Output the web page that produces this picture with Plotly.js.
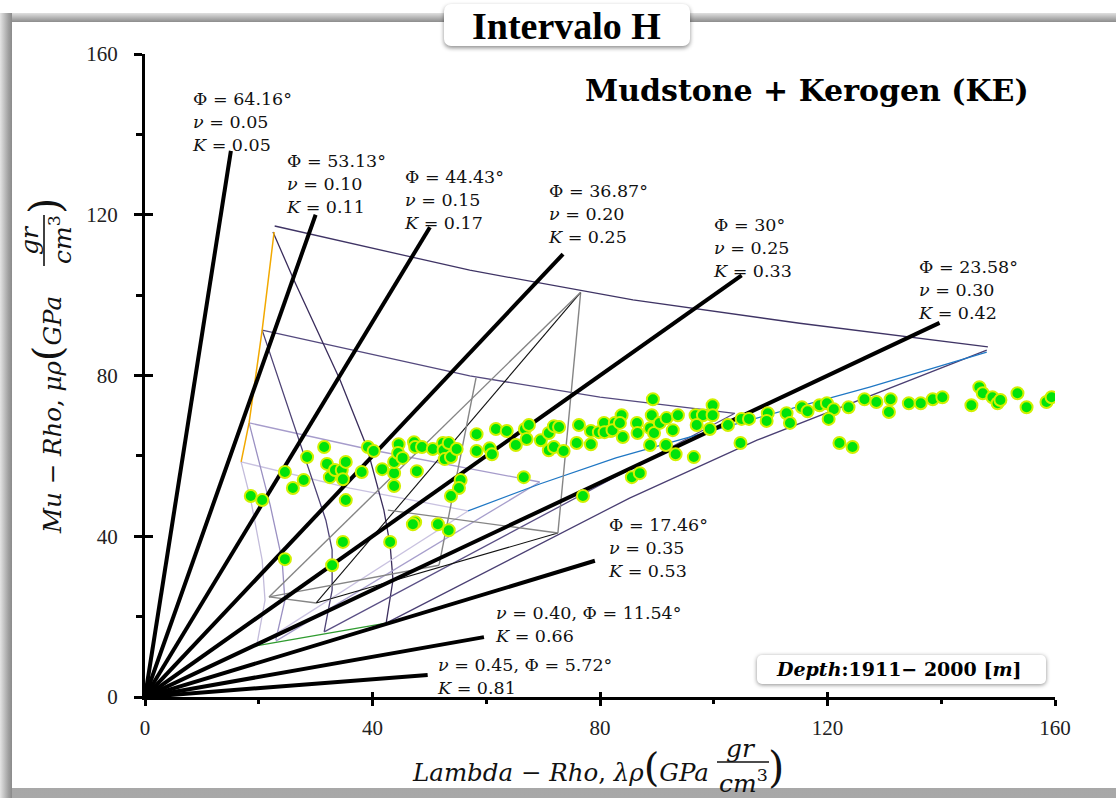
<!DOCTYPE html>
<html>
<head>
<meta charset="utf-8">
<script src="https://cdn.plot.ly/plotly-3.0.1.min.js"></script>
<style>
html,body{margin:0;padding:0;background:#fff;}
#wrap{position:relative;width:1116px;height:798px;overflow:hidden;background:#fff;}
#frame{position:absolute;left:0;top:13px;width:1116px;height:785px;
  background:linear-gradient(to bottom,#e0e0e0 0px,#8c8c8c 9px,#a8a8a8 100%);}
#frameL{position:absolute;left:0;top:13px;width:12px;height:785px;
  background:linear-gradient(to right,#e4e4e4,#a0a0a0 70%,#8a8a8a);}
#inner{position:absolute;left:12px;top:22px;right:0px;bottom:10px;background:#fff;}
#titlebox{position:absolute;left:444px;top:4px;width:246px;height:42px;background:#fff;
  border-radius:7px;box-shadow:0 2px 4px rgba(0,0,0,0.45);}
#depthbox{position:absolute;left:757px;top:655px;width:289px;height:29px;background:#fff;
  border-radius:5px;box-shadow:0 1px 4px rgba(0,0,0,0.45);}
#plot{position:absolute;left:0;top:0;width:1116px;height:798px;}
</style>
</head>
<body>
<div id="wrap">
  <div id="frame"></div>
  <div id="frameL"></div>
  <div id="inner"></div>
  <div id="titlebox"></div>
  <div id="depthbox"></div>
  <div id="plot"></div>
</div>
<script>
// ---------------- measured samples (Lambda-Rho, Mu-Rho) ----------------
const lambdaRho = [18.6,20.6,24.6,26.0,27.9,28.5,31.5,32.0,32.5,33.4,34.6,35.3,34.8,35.3,38.1,39.2,40.2,41.7,43.8,43.8,
  43.8,44.6,44.5,45.3,47.3,47.5,48.7,47.8,50.6,52.4,52.5,53.4,52.7,53.8,54.8,55.5,55.2,53.8,58.3,58.3,
  60.6,61.0,61.7,63.6,65.2,66.8,67.5,67.1,66.6,69.6,71.0,71.9,72.8,71.0,71.9,73.6,76.3,75.9,78.4,78.4,
  79.8,80.7,81.9,82.6,77.0,47.5,47.1,51.5,53.4,24.6,32.9,34.8,43.1,80.8,82.2,83.8,83.5,84.0,86.5,86.6,
  89.1,89.3,88.8,89.5,90.5,91.7,93.7,92.8,88.8,91.6,93.3,96.5,96.8,98.1,97.0,99.8,99.8,99.3,102.5,104.9,
  106.2,104.7,109.5,109.3,112.8,113.4,115.5,116.5,118.6,119.9,121.1,120.2,122.1,124.4,123.7,126.5,128.6,131.1,130.8,134.3,
  136.4,138.5,140.2,145.3,146.7,147.3,149.0,149.9,150.4,153.4,155.0,158.5,159.4,85.6,87.0];
const muRho = [50.0,49.0,56.0,52.0,54.0,59.7,62.2,58.0,54.7,56.5,56.5,58.5,54.2,49.0,56.0,62.2,61.2,56.7,55.7,52.5,
  58.5,62.9,60.7,59.5,63.4,62.2,62.2,56.2,61.7,63.2,61.4,63.2,59.2,59.7,61.7,54.0,52.0,50.0,65.4,61.2,
  61.9,60.4,66.7,66.2,62.7,66.7,67.7,64.2,54.7,63.9,65.7,67.4,67.2,61.4,62.2,61.2,67.7,63.2,66.2,62.9,
  65.9,68.2,66.2,68.2,50.0,43.5,43.0,43.0,41.5,34.3,32.8,38.6,38.6,65.9,66.4,70.1,68.2,64.7,68.2,65.7,
  70.1,74.1,66.9,65.7,68.2,69.4,70.1,66.4,62.7,62.7,60.4,59.7,70.1,70.1,67.7,72.6,70.1,66.7,67.7,69.2,
  69.2,63.2,70.6,68.7,70.6,68.2,72.1,71.1,72.6,73.1,71.6,69.2,63.2,62.2,72.1,74.1,73.4,74.1,70.9,73.1,
  73.1,74.1,74.6,72.6,77.1,75.6,74.6,73.1,73.9,75.6,72.1,73.4,74.6,54.7,55.7];

// ---------------- Poisson-ratio reference lines ----------------
const nuLabels = ["Φ = 64.16°<br><i>ν</i> = 0.05<br><i>K</i> = 0.05",
  "Φ = 53.13°<br><i>ν</i> = 0.10<br><i>K</i> = 0.11",
  "Φ = 44.43°<br><i>ν</i> = 0.15<br><i>K</i> = 0.17",
  "Φ = 36.87°<br><i>ν</i> = 0.20<br><i>K</i> = 0.25",
  "Φ = 30°<br><i>ν</i> = 0.25<br><i>K</i> = 0.33",
  "Φ = 23.58°<br><i>ν</i> = 0.30<br><i>K</i> = 0.42",
  "Φ = 17.46°<br><i>ν</i> = 0.35<br><i>K</i> = 0.53",
  "<i>ν</i> = 0.40, Φ = 11.54°<br><i>K</i> = 0.66",
  "<i>ν</i> = 0.45, Φ = 5.72°<br><i>K</i> = 0.81"];
const nuLineEndLambda = [15.1, 30.0, 50.1, 73.5, 104.9, 139.7, 79.1, 59.6, 49.7];
const nuLineEndMu     = [135.9, 120.0, 116.9, 110.2, 104.9, 93.1, 33.9, 14.9, 5.5];
const nuLabelLambda   = [7.9, 24.4, 45.2, 70.5, 99.6, 135.5, 81.0, 61.2, 51.0];
const nuLabelMu       = [151.8, 136.4, 132.4, 128.9, 120.5, 110.0, 45.8, 23.9, 11.0];

// ---------------- template (Mudstone + Kerogen) curves ----------------
const tplTopX = [22.8, 57.1, 85.8, 115.1, 148.2];
const tplTopY = [117.2, 106.2, 98.8, 93.0, 87.1];
const tpl2X = [20.6, 57.1, 80.0, 103.7];
const tpl2Y = [91.3, 79.9, 74.6, 70.6];
const tpl3X = [18.3, 40.1, 69.4];
const tpl3Y = [68.2, 61.4, 53.5];
const tpl4X = [16.9, 36.0, 56.8];
const tpl4Y = [58.5, 52.0, 46.3];
const tplBlueX = [56.8, 69.4, 82.8, 106.3, 127.4, 148.0];
const tplBlueY = [46.3, 53.0, 59.5, 68.9, 77.1, 85.8];
const tplOrangeX = [22.7, 20.6, 18.3, 16.9];
const tplOrangeY = [115.7, 91.3, 68.2, 58.5];
const tplC1X = [22.5, 26.2, 34.3, 39.0, 42.0, 43.1, 43.6, 42.9, 42.4];
const tplC1Y = [115.7, 103.7, 78.9, 62.2, 46.5, 37.8, 29.1, 22.9, 18.4];
const tplC2X = [20.6, 29.5, 31.8, 32.9, 32.9, 31.5];
const tplC2Y = [91.3, 54.0, 44.0, 36.6, 26.6, 16.2];
const tplC3X = [18.3, 22.0, 24.1, 24.6, 23.0];
const tplC3Y = [68.2, 47.8, 34.1, 24.1, 14.2];
const tplC4X = [16.9, 18.6, 20.6, 21.1, 19.7];
const tplC4Y = [58.5, 49.0, 34.1, 24.1, 13.2];
const tplGreenX = [19.5, 42.4];
const tplGreenY = [12.7, 18.4];
const tplB1X = [42.4, 85.2, 107.6, 148.0];
const tplB1Y = [18.4, 49.5, 63.9, 86.3];
const tplB2X = [31.5, 103.7];
const tplB2Y = [16.2, 70.6];
const tplB3X = [23.0, 69.4];
const tplB3Y = [13.9, 53.5];
const tplB4X = [19.9, 56.8];
const tplB4Y = [12.9, 46.3];

// ---------------- inner grey / black template ----------------
const greyA  = [76.6, 100.7];
const greyR  = [72.6, 40.8];
const greyL  = [30.1, 23.4];
const greyLL = [21.8, 24.9];
const greyA2 = [58.2, 79.4];
const greyR2 = [51.7, 32.8];
const greyM  = [42.7, 46.5];

const traces = [];
function line(xs, ys, color, width){
  traces.push({type:'scatter', mode:'lines', x:xs, y:ys, hoverinfo:'skip', showlegend:false,
    line:{color:color, width:width}});
}
function seg(p, q, color, width){ line([p[0], q[0]], [p[1], q[1]], color, width); }

line(tplTopX, tplTopY, '#3f3465', 1.3);
line(tpl2X, tpl2Y, '#54497e', 1.3);
line(tpl3X, tpl3Y, '#a69ccb', 1.3);
line(tpl4X, tpl4Y, '#c9c2e0', 1.3);
line(tplC1X, tplC1Y, '#3a2d5c', 1.3);
line(tplC2X, tplC2Y, '#4d4275', 1.3);
line(tplC3X, tplC3Y, '#9a90c2', 1.3);
line(tplC4X, tplC4Y, '#c3bcdb', 1.3);
line(tplB1X, tplB1Y, '#4a3f73', 1.3);
line(tplB2X, tplB2Y, '#5a4f85', 1.3);
line(tplB3X, tplB3Y, '#a79fcc', 1.3);
line(tplB4X, tplB4Y, '#c9c2e0', 1.3);
line(tplBlueX, tplBlueY, '#1f77c4', 1.3);
line(tplOrangeX, tplOrangeY, '#f2a900', 1.5);
line(tplGreenX, tplGreenY, '#2e9b2e', 1.3);

seg(greyA, greyR, '#858585', 1.4);
seg(greyR, greyL, '#111111', 1.1);
seg(greyA, greyL, '#111111', 1.1);
seg(greyA, greyLL, '#858585', 1.4);
seg(greyA2, greyR2, '#858585', 1.4);
seg(greyR2, greyLL, '#858585', 1.4);
seg(greyM, greyR, '#858585', 1.4);
seg(greyLL, greyL, '#858585', 1.4);

for (let i = 0; i < nuLineEndLambda.length; i++) {
  line([0, nuLineEndLambda[i]], [0, nuLineEndMu[i]], '#000000', 4);
}

traces.push({type:'scatter', mode:'markers', x:lambdaRho, y:muRho, hoverinfo:'skip', showlegend:false,
  marker:{size:12, color:'#00e30b', line:{color:'#d2f000', width:2}}});

// ---------------- annotations ----------------
const serif = 'DejaVu Serif, Liberation Serif, serif';
const ann = [];
for (let i = 0; i < nuLabels.length; i++) {
  ann.push({x:nuLabelLambda[i], y:nuLabelMu[i], xref:'x', yref:'y', xanchor:'left', yanchor:'top',
    text:nuLabels[i], showarrow:false, align:'left', font:{family:serif, size:17.5, color:'#111'}});
}
function pa(px, py){ return {x:(px-145)/910, y:(697-py)/643, xref:'paper', yref:'paper', showarrow:false}; }

ann.push(Object.assign(pa(566,26), {text:'<b>Intervalo H</b>', xanchor:'center', yanchor:'middle',
  font:{family:'Liberation Serif, serif', size:38, color:'#000'}}));
ann.push(Object.assign(pa(807,90), {text:'<b>Mudstone + Kerogen (KE)</b>', xanchor:'center', yanchor:'middle',
  font:{family:'DejaVu Serif, serif', size:30, color:'#000'}}));
ann.push(Object.assign(pa(898,669), {text:'<b><i>Depth</i>:1911− 2000 [<i>m</i>]</b>', xanchor:'center', yanchor:'middle',
  font:{family:'DejaVu Serif, serif', size:19, color:'#000'}}));

// x axis title (with fraction)
ann.push(Object.assign(pa(410,767), {text:'<i>Lambda</i> − <i>Rho</i>, <i>λρ</i><span style="font-size:40px">(</span><i>GPa</i>',
  xanchor:'left', yanchor:'middle', font:{family:serif, size:24.5, color:'#111'}}));
ann.push(Object.assign(pa(741,748), {text:'<i>gr</i>', xanchor:'center', yanchor:'middle', font:{family:serif, size:25, color:'#111'}}));
ann.push(Object.assign(pa(743,781), {text:'<i>cm</i><sup>3</sup>', xanchor:'center', yanchor:'middle', font:{family:serif, size:25, color:'#111'}}));
ann.push(Object.assign(pa(776,767), {text:')', xanchor:'center', yanchor:'middle', font:{family:serif, size:42, color:'#111'}}));

// y axis title (rotated, with fraction)
ann.push(Object.assign(pa(47,536), {text:'<i>Mu</i> − <i>Rho</i>, <i>μρ</i><span style="font-size:40px">(</span><i>GPa</i>',
  xanchor:'center', yanchor:'bottom', textangle:-90, font:{family:serif, size:24.5, color:'#111'}}));
ann.push(Object.assign(pa(29,240), {text:'<i>gr</i>', xanchor:'center', yanchor:'middle', textangle:-90, font:{family:serif, size:25, color:'#111'}}));
ann.push(Object.assign(pa(60,240), {text:'<i>cm</i><sup>3</sup>', xanchor:'center', yanchor:'middle', textangle:-90, font:{family:serif, size:25, color:'#111'}}));
ann.push(Object.assign(pa(46,206), {text:')', xanchor:'center', yanchor:'middle', textangle:-90, font:{family:serif, size:42, color:'#111'}}));

const shapes = [
  {type:'line', xref:'paper', yref:'paper', x0:(717-145)/910, x1:(769-145)/910, y0:(697-762)/643, y1:(697-762)/643, line:{color:'#111', width:1.6}},
  {type:'line', xref:'paper', yref:'paper', x0:(44-145)/910, x1:(44-145)/910, y0:(697-215)/643, y1:(697-266)/643, line:{color:'#111', width:1.6}}
];

const tickFont = {family:'Liberation Serif, serif', size:21, color:'#222'};
const layout = {
  width:1116, height:798,
  margin:{l:145, r:61, t:54, b:101},
  paper_bgcolor:'rgba(0,0,0,0)', plot_bgcolor:'rgba(0,0,0,0)',
  showlegend:false,
  xaxis:{range:[0,160], dtick:40, tick0:0, showgrid:false, zeroline:false, showline:true, linewidth:3, linecolor:'#000',
    ticks:'outside', ticklen:6, tickwidth:3, tickcolor:'#000', tickfont:tickFont, ticklabelstandoff:4,
    minor:{dtick:20, ticks:'outside', ticklen:4, tickwidth:3, tickcolor:'#000'}},
  yaxis:{range:[0,160], dtick:40, tick0:0, showgrid:false, zeroline:false, showline:true, linewidth:3, linecolor:'#000',
    ticks:'outside', ticklen:8, tickwidth:3, tickcolor:'#000', tickfont:tickFont, ticklabelstandoff:12,
    minor:{dtick:20, ticks:'outside', ticklen:6, tickwidth:3, tickcolor:'#000'}},
  xaxis2:{range:[0,160], overlaying:'x', anchor:'y', side:'bottom', dtick:40, tick0:0, showgrid:false, zeroline:false,
    showline:false, ticks:'inside', ticklen:5, tickwidth:3, tickcolor:'#000', showticklabels:false},
  yaxis2:{range:[0,160], overlaying:'y', anchor:'x', side:'left', dtick:40, tick0:0, showgrid:false, zeroline:false,
    showline:false, ticks:'inside', ticklen:8, tickwidth:3, tickcolor:'#000', showticklabels:false},
  annotations:ann,
  shapes:shapes
};
traces.push({type:'scatter', mode:'markers', x:[], y:[], xaxis:'x2', yaxis:'y2', hoverinfo:'skip', showlegend:false});
Plotly.newPlot('plot', traces, layout, {staticPlot:true, displayModeBar:false});
</script>
</body>
</html>
